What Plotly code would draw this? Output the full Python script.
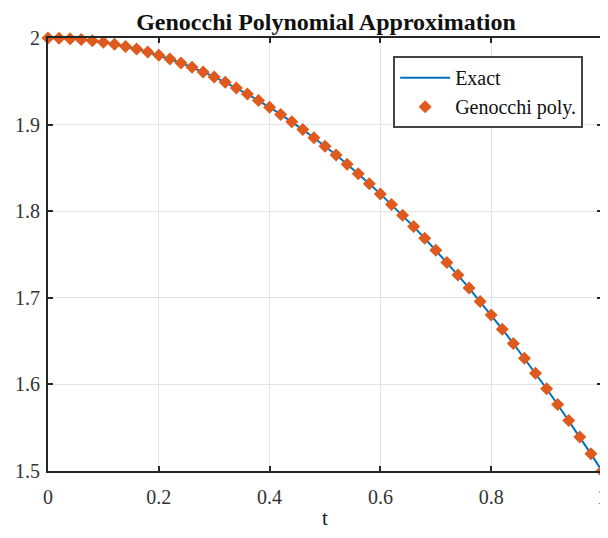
import plotly.graph_objects as go

t_values = [0.00, 0.02, 0.04, 0.06, 0.08, 0.10, 0.12, 0.14, 0.16, 0.18,
            0.20, 0.22, 0.24, 0.26, 0.28, 0.30, 0.32, 0.34, 0.36, 0.38,
            0.40, 0.42, 0.44, 0.46, 0.48, 0.50, 0.52, 0.54, 0.56, 0.58,
            0.60, 0.62, 0.64, 0.66, 0.68, 0.70, 0.72, 0.74, 0.76, 0.78,
            0.80, 0.82, 0.84, 0.86, 0.88, 0.90, 0.92, 0.94, 0.96, 0.98, 1.00]

exact_values = [2.0000, 1.9998, 1.9992, 1.9982, 1.9968, 1.9950, 1.9928, 1.9902, 1.9872, 1.9838,
                1.9800, 1.9758, 1.9712, 1.9662, 1.9608, 1.9550, 1.9488, 1.9422, 1.9352, 1.9278,
                1.9200, 1.9118, 1.9032, 1.8942, 1.8848, 1.8750, 1.8648, 1.8542, 1.8432, 1.8318,
                1.8200, 1.8078, 1.7952, 1.7822, 1.7688, 1.7550, 1.7408, 1.7262, 1.7112, 1.6958,
                1.6800, 1.6638, 1.6472, 1.6302, 1.6128, 1.5950, 1.5768, 1.5582, 1.5392, 1.5198, 1.5000]

genocchi_values = [2.0000, 1.9998, 1.9992, 1.9982, 1.9968, 1.9950, 1.9928, 1.9902, 1.9872, 1.9838,
                   1.9800, 1.9758, 1.9712, 1.9662, 1.9608, 1.9550, 1.9488, 1.9422, 1.9352, 1.9278,
                   1.9200, 1.9118, 1.9032, 1.8942, 1.8848, 1.8750, 1.8648, 1.8542, 1.8432, 1.8318,
                   1.8200, 1.8078, 1.7952, 1.7822, 1.7688, 1.7550, 1.7408, 1.7262, 1.7112, 1.6958,
                   1.6800, 1.6638, 1.6472, 1.6302, 1.6128, 1.5950, 1.5768, 1.5582, 1.5392, 1.5198, 1.5000]

x_ticks = [0, 0.2, 0.4, 0.6, 0.8, 1]
x_tick_labels = ["0", "0.2", "0.4", "0.6", "0.8", "1"]
y_ticks = [1.5, 1.6, 1.7, 1.8, 1.9, 2]
y_tick_labels = ["1.5", "1.6", "1.7", "1.8", "1.9", "2"]

font_family = "Liberation Serif"

fig = go.Figure()
fig.add_trace(go.Scatter(
    x=t_values, y=exact_values, mode="lines", name="Exact",
    line=dict(color="#0072BD", width=2), cliponaxis=False))
fig.add_trace(go.Scatter(
    x=t_values, y=genocchi_values, mode="markers", name="Genocchi poly.",
    marker=dict(symbol="diamond", size=10, color="#E05A1E",
                line=dict(width=0)), cliponaxis=False))

axis_common = dict(
    showline=True, linecolor="#262626", linewidth=2, mirror="ticks",
    ticks="inside", ticklen=5, tickcolor="#262626", tickwidth=1.5,
    showgrid=True, gridcolor="#E3E3E3", gridwidth=1, zeroline=False,
    automargin=False, ticklabeloverflow="allow",
    tickfont=dict(family=font_family, size=20, color="#333333"),
)

# The page body adds an 8px margin, so the figure is sized to fit inside it.
fig.update_layout(
    width=600, height=522,
    margin=dict(l=40, r=6, t=30, b=59),
    paper_bgcolor="white", plot_bgcolor="white",
    title=dict(text="<b>Genocchi Polynomial Approximation</b>",
               x=0.53, xanchor="center", y=0.99, yanchor="top",
               font=dict(family=font_family, size=24, color="#111111")),
    xaxis=dict(range=[0, 1], tickvals=x_ticks, ticktext=x_tick_labels,
               ticklabelstandoff=7,
               title=dict(text="t", font=dict(family=font_family, size=21, color="#222222"),
                          standoff=12),
               **axis_common),
    yaxis=dict(range=[1.5, 2], tickvals=y_ticks, ticktext=y_tick_labels,
               ticklabelstandoff=2,
               **axis_common),
    legend=dict(x=0.623, y=0.958, xanchor="left", yanchor="top",
                bgcolor="white", bordercolor="#444444", borderwidth=2,
                font=dict(family=font_family, size=20, color="#111111"),
                itemwidth=50, tracegroupgap=0),
    showlegend=True,
)

fig.write_html("out.html")
